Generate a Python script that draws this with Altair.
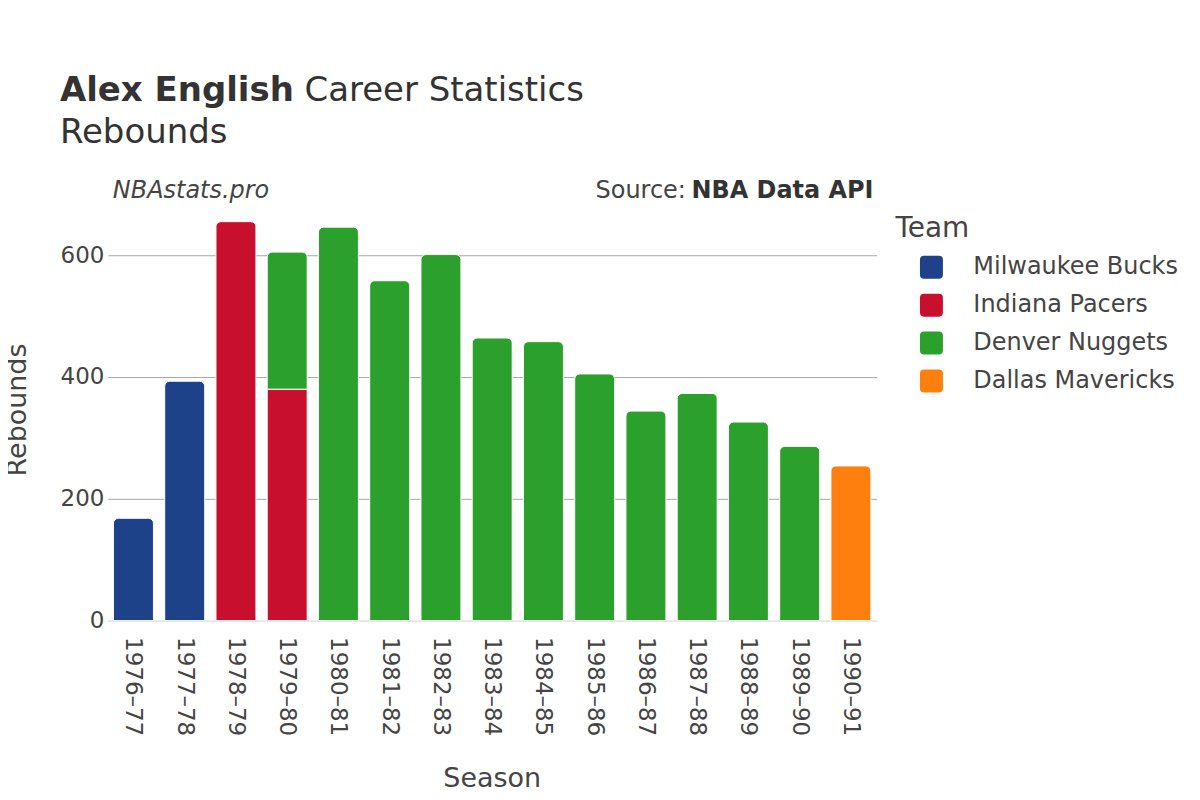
import altair as alt
import pandas as pd

seasons = ["1976–77", "1977–78", "1978–79", "1979–80", "1979–80", "1980–81", "1981–82",
           "1982–83", "1983–84", "1984–85", "1985–86", "1986–87", "1987–88", "1988–89",
           "1989–90", "1990–91"]
teams = ["Milwaukee Bucks", "Milwaukee Bucks", "Indiana Pacers", "Indiana Pacers",
         "Denver Nuggets", "Denver Nuggets", "Denver Nuggets", "Denver Nuggets",
         "Denver Nuggets", "Denver Nuggets", "Denver Nuggets", "Denver Nuggets",
         "Denver Nuggets", "Denver Nuggets", "Denver Nuggets", "Dallas Mavericks"]
rebounds = [168, 393, 655, 380, 225, 646, 558, 601, 464, 458, 405, 344, 373, 326, 286, 254]

season_order = ["1976–77", "1977–78", "1978–79", "1979–80", "1980–81", "1981–82", "1982–83",
                "1983–84", "1984–85", "1985–86", "1986–87", "1987–88", "1988–89", "1989–90",
                "1990–91"]
team_names = ["Milwaukee Bucks", "Indiana Pacers", "Denver Nuggets", "Dallas Mavericks"]
team_colors = ["#1d428a", "#c8102e", "#2ca02c", "#ff7f0e"]

df = pd.DataFrame({"Season": seasons, "Team": teams, "Rebounds": rebounds})
df["order"] = df["Team"].map({t: i for i, t in enumerate(team_names)})
df["top"] = ~df.duplicated("Season", keep="last")

FONT = "DejaVu Sans"
TXT = "#444444"

x_enc = alt.X("Season:N", sort=season_order,
              scale=alt.Scale(paddingInner=0.22, paddingOuter=0.11),
              axis=alt.Axis(title=None, labelAngle=90, labelAlign="left",
                            labelBaseline="middle", labelPadding=16, labelFontSize=23,
                            labelFont=FONT, labelColor=TXT, ticks=False,
                            domainColor="#e6e6e6", domainWidth=2))
y_enc = alt.Y("y1:Q",
              scale=alt.Scale(domain=[0, 690], nice=False),
              axis=alt.Axis(title=None, values=[0, 200, 400, 600], domain=False,
                            ticks=False, labelPadding=4, labelFontSize=23, labelFont=FONT,
                            labelColor=TXT,
                            gridColor=alt.condition("datum.value === 0",
                                                    alt.value("#e6e6e6"),
                                                    alt.value("#a8a8a8")),
                            gridWidth=1))

rounded = "M -0.65 -1 L 0.65 -1 Q 1 -1 1 -0.65 L 1 0.65 Q 1 1 0.65 1 L -0.65 1 Q -1 1 -1 0.65 L -1 -0.65 Q -1 -1 -0.65 -1 Z"
color_enc = alt.Color("Team:N", scale=alt.Scale(domain=team_names, range=team_colors),
                      legend=alt.Legend(title=None, orient="none", legendX=813, legendY=55,
                                        symbolType=rounded, symbolSize=529,
                                        symbolStrokeWidth=0, symbolOpacity=1,
                                        labelFontSize=24, labelFont=FONT, labelColor=TXT,
                                        labelLimit=400,
                                        labelOffset=30, rowPadding=14, padding=0))

base = alt.Chart(df).transform_stack(
    stack="Rebounds", as_=["y0", "y1"], groupby=["Season"],
    sort=[alt.SortField("order", order="ascending")]
).encode(x=x_enc, y=y_enc, y2="y0:Q", color=color_enc)

bars_low = base.transform_filter("!datum.top").mark_bar(stroke="white", strokeWidth=1)
bars_top = base.transform_filter("datum.top").mark_bar(
    stroke="white", strokeWidth=1, cornerRadiusTopLeft=5, cornerRadiusTopRight=5)

one = pd.DataFrame({"k": [0]})


def label(text, x, y, size, align="left", weight="normal", style="normal", color=TXT,
          angle=0):
    return alt.Chart(one).mark_text(text=text, align=align, baseline="alphabetic",
                                    font=FONT, fontSize=size, fontWeight=weight,
                                    fontStyle=style, color=color, angle=angle).encode(
        x=alt.value(x), y=alt.value(y))


texts = [
    label("Alex English", -48, -100, 34, weight="bold", color="#333333"),
    label("Career Statistics", 197, -100, 34, color="#333333"),
    label("Rebounds", -48, -57, 34, color="#333333"),
    label("NBAstats.pro", 5, -2, 24, style="italic"),
    label("Source:", 579, -2, 24, align="right"),
    label("NBA Data API", 767, -2, 24, align="right", weight="bold", color="#333333"),
    label("Team", 789, 37, 28),
    label("Season", 385, 588, 27, align="center"),
    label("Rebounds", -82, 210, 27, align="center", angle=270),
]

chart = alt.layer(bars_low, bars_top, *texts).properties(
    width=770, height=421,
    autosize=alt.AutoSizeParams(type="none"),
    padding={"left": 100, "top": 192, "right": 316, "bottom": 171},
    background="white",
).configure_view(stroke=None)

chart.save("out.html", embed_options={"renderer": "svg", "actions": False})
